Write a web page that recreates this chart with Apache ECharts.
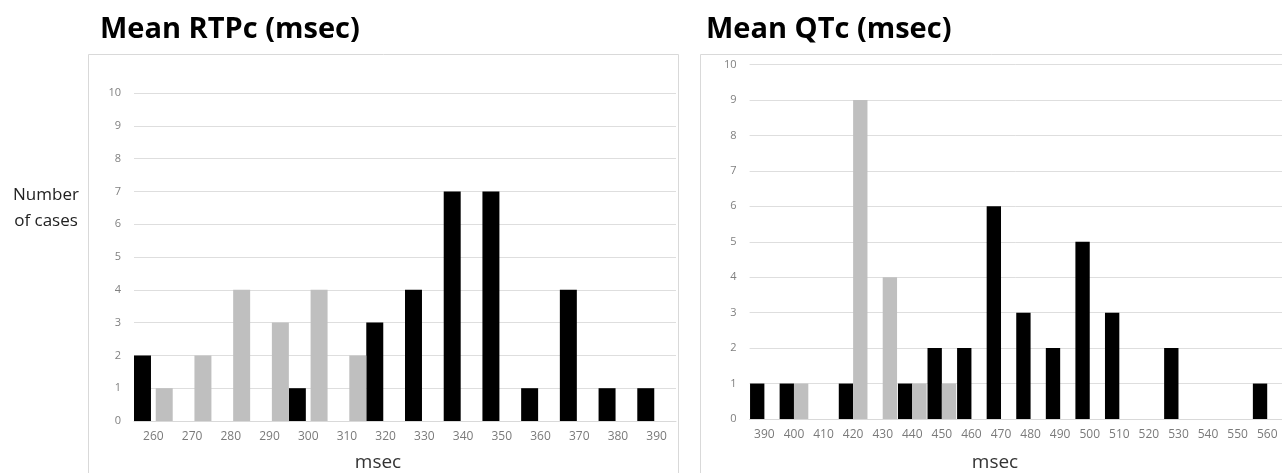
<!DOCTYPE html>
<html>
<head>
<meta charset="utf-8">
<script src="https://cdn.jsdelivr.net/npm/echarts@6/dist/echarts.min.js"></script>
<style>
html,body{margin:0;padding:0;background:#fff;overflow:hidden;}
#c{width:1282px;height:473px;}
</style>
</head>
<body>
<div id="c"></div>
<script>
// Left panel: Mean RTPc (msec)
const rtpcCategories = ['260','270','280','290','300','310','320','330','340','350','360','370','380','390'];
const rtpcBlack = [2,0,0,0,1,0,3,4,7,7,1,4,1,1];
const rtpcGray  = [1,2,4,3,4,2,0,0,0,0,0,0,0,0];

// Right panel: Mean QTc (msec)
const qtcCategories = ['390','400','410','420','430','440','450','460','470','480','490','500','510','520','530','540','550','560'];
const qtcBlack = [1,1,0,1,0,1,2,2,6,3,2,5,3,0,2,0,0,1];
const qtcGray  = [0,1,0,9,4,1,1,0,0,0,0,0,0,0,0,0,0,0];

const yTicks = [0,10,1]; // min, max, interval

const FONT = '"Open Sans", "Liberation Sans", sans-serif';
const chart = echarts.init(document.getElementById('c'), null, {renderer:'canvas'});

function xAxisCfg(cats, idx){
  return {
    type:'category', gridIndex: idx, data: cats,
    axisLine:{show:true, lineStyle:{color:'#d9d9d9', width:1}},
    axisTick:{show:false},
    axisLabel:{color:'#7a7a7a', fontSize:12, fontFamily:FONT, margin:10, interval:0}
  };
}
function yAxisCfg(idx){
  return {
    type:'value', gridIndex: idx, min:yTicks[0], max:yTicks[1], interval:yTicks[2],
    axisLine:{show:false}, axisTick:{show:false},
    axisLabel:{color:'#808080', fontSize:11, fontFamily:FONT, margin:13},
    splitLine:{show:true, lineStyle:{color:'#dedede', width:1}}
  };
}

chart.setOption({
  animation:false,
  backgroundColor:'#ffffff',
  title:[
    {text:'Mean RTPc (msec)', left:95, top:10, textStyle:{fontFamily:FONT, fontWeight:'bold', fontSize:29, color:'#000'}},
    {text:'Mean QTc (msec)', left:701, top:10, textStyle:{fontFamily:FONT, fontWeight:'bold', fontSize:29, color:'#000'}},
    {text:'Number\nof cases', left:41, top:177, textAlign:'center', textStyle:{fontFamily:FONT, fontWeight:'normal', fontSize:17, lineHeight:26, color:'#222'}},
    {text:'msec', left:373, top:448, textAlign:'center', textStyle:{fontFamily:FONT, fontWeight:'normal', fontSize:19, color:'#333'}},
    {text:'msec', left:990, top:448, textAlign:'center', textStyle:{fontFamily:FONT, fontWeight:'normal', fontSize:19, color:'#333'}}
  ],
  graphic:[
    {type:'rect', shape:{x:88.5, y:54.5, width:590, height:440}, style:{fill:'none', stroke:'#d9d9d9', lineWidth:1}, silent:true, z:-1},
    {type:'rect', shape:{x:700.5, y:54.5, width:600, height:440}, style:{fill:'none', stroke:'#d9d9d9', lineWidth:1}, silent:true, z:-1}
  ],
  grid:[
    {left:134, right:606, top:93, bottom:52, containLabel:false},
    {left:749.6, right:-5, top:64.5, bottom:54, containLabel:false}
  ],
  xAxis:[xAxisCfg(rtpcCategories,0), xAxisCfg(qtcCategories,1)],
  yAxis:[yAxisCfg(0), yAxisCfg(1)],
  series:[
    {type:'bar', xAxisIndex:0, yAxisIndex:0, data:rtpcBlack, itemStyle:{color:'#000000'}, barGap:'28%', barCategoryGap:'0%'},
    {type:'bar', xAxisIndex:0, yAxisIndex:0, data:rtpcGray, itemStyle:{color:'#bfbfbf'}, barGap:'28%', barCategoryGap:'0%'},
    {type:'bar', xAxisIndex:1, yAxisIndex:1, data:qtcBlack, itemStyle:{color:'#000000'}, barGap:'0%', barCategoryGap:'3%'},
    {type:'bar', xAxisIndex:1, yAxisIndex:1, data:qtcGray, itemStyle:{color:'#bfbfbf'}, barGap:'0%', barCategoryGap:'3%'}
  ]
});
</script>
</body>
</html>
